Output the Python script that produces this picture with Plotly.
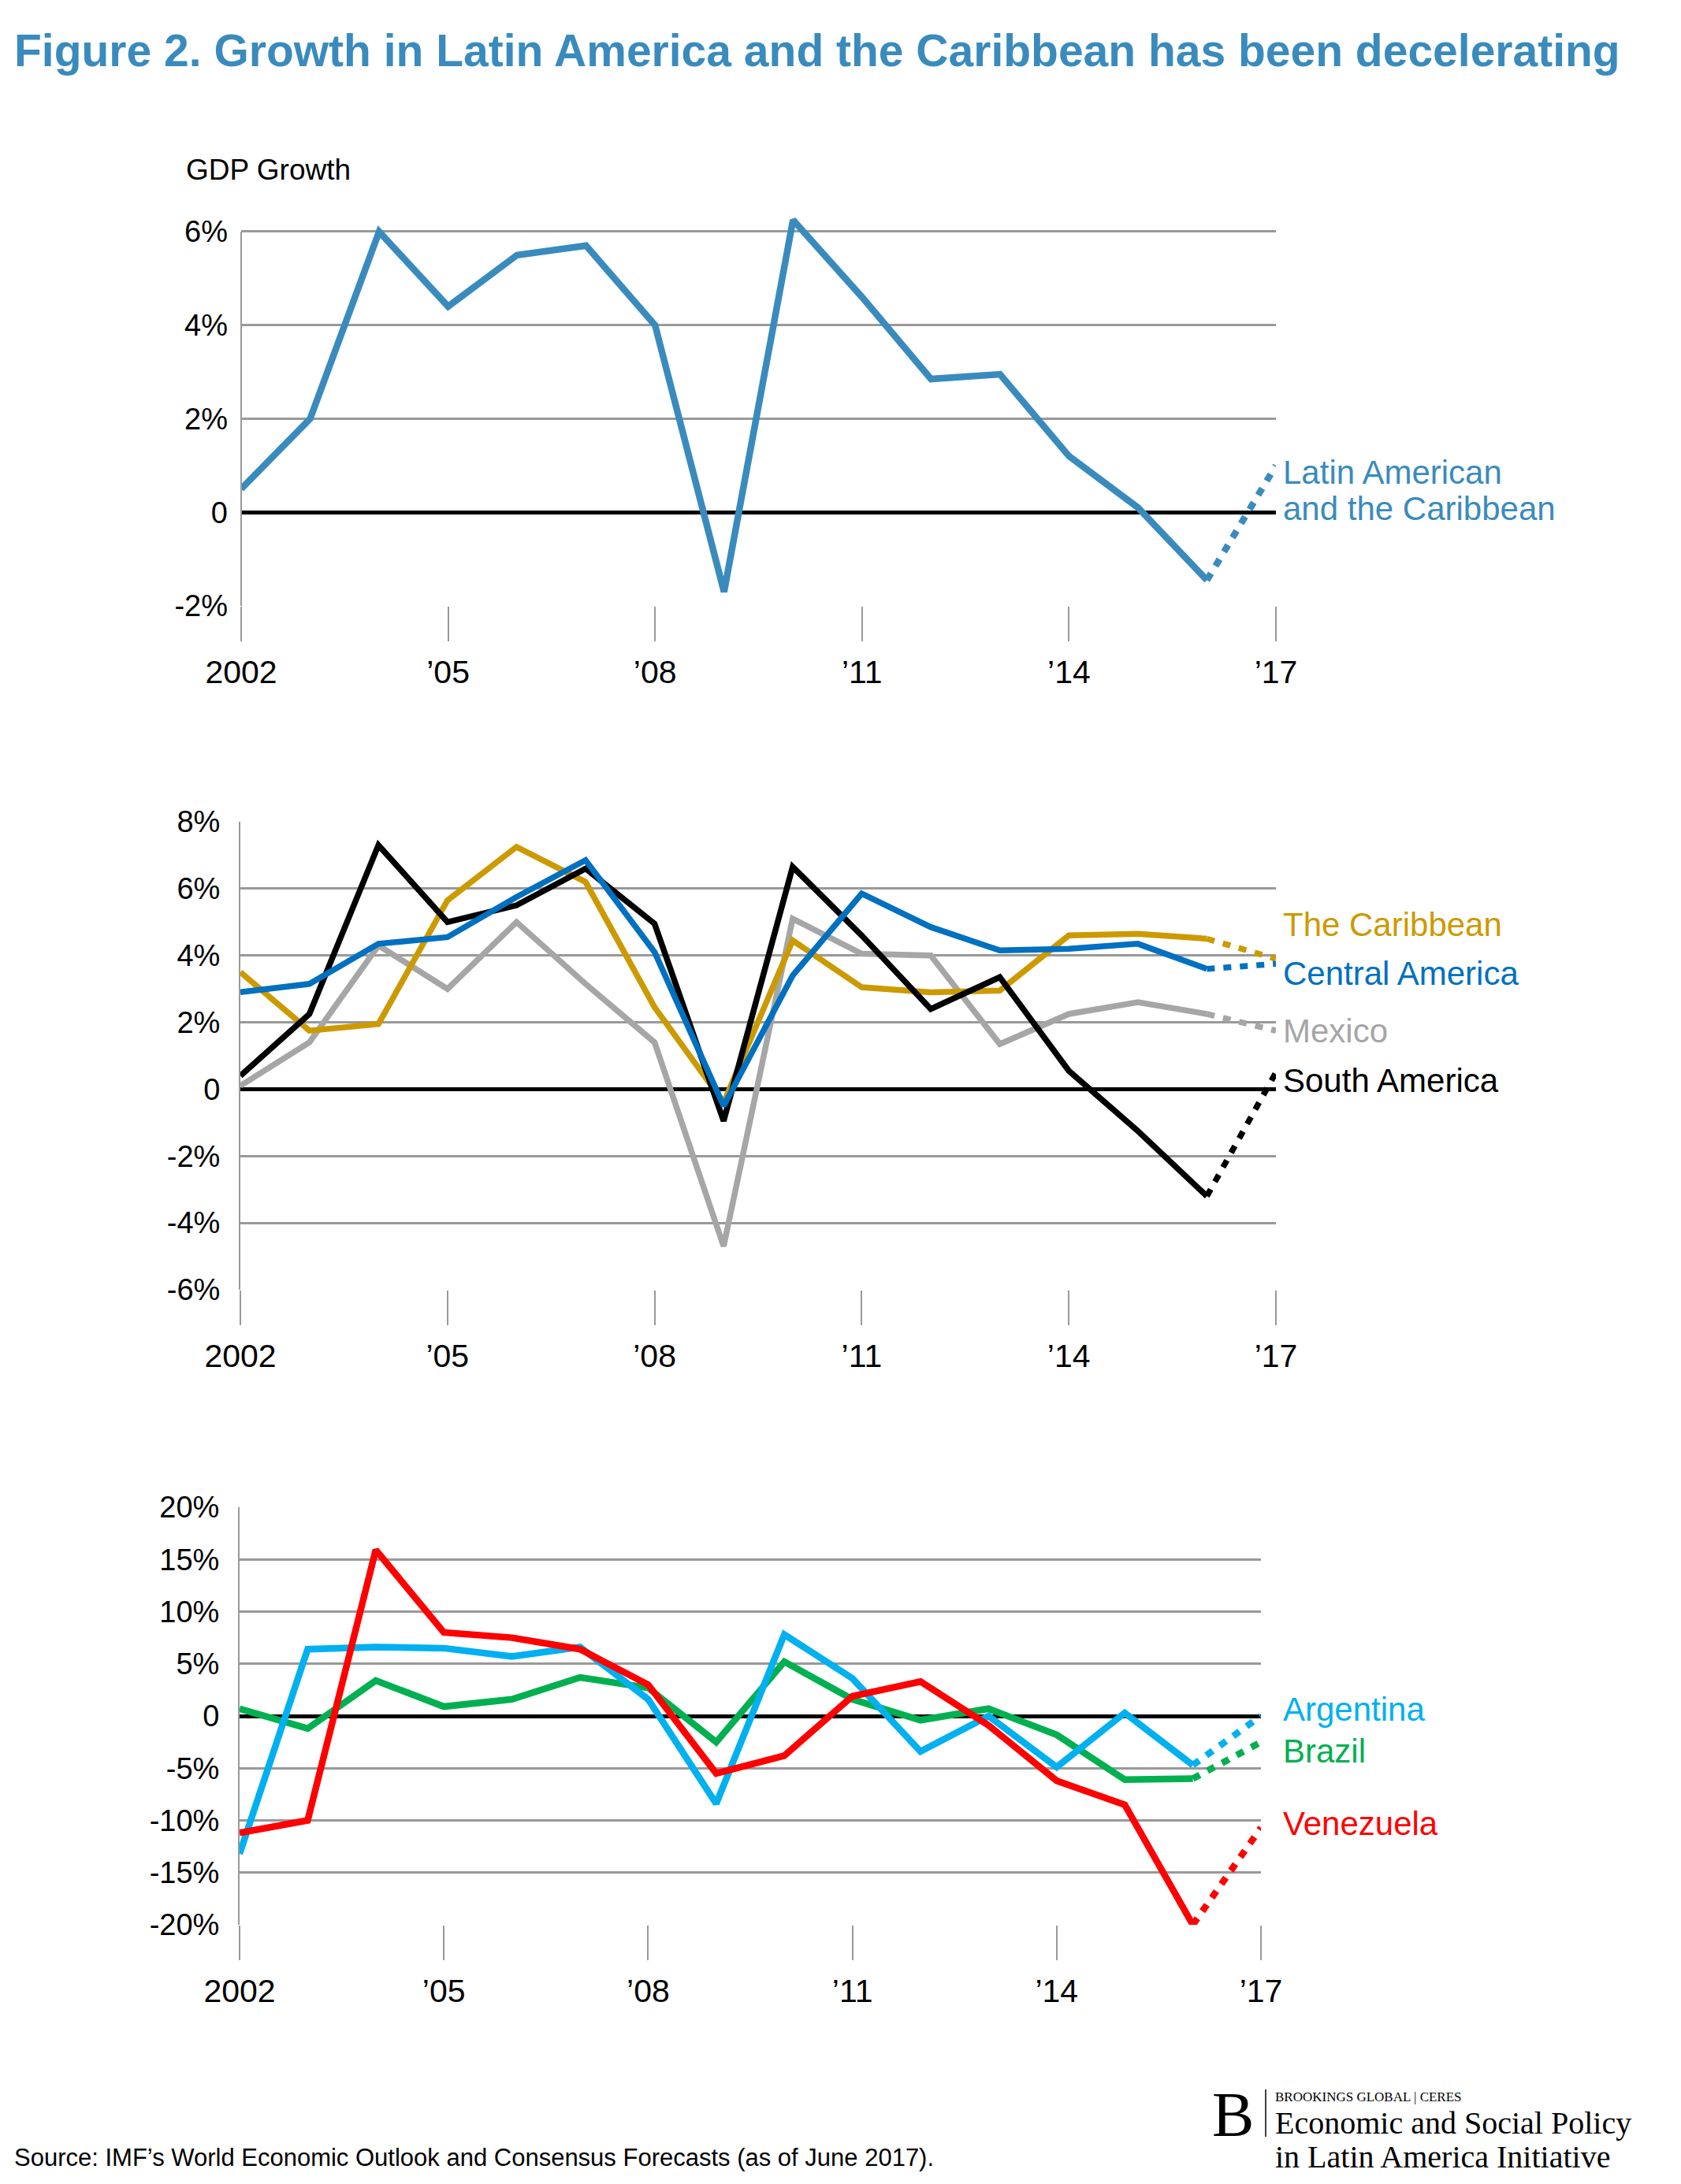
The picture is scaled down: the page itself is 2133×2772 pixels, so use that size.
import plotly.graph_objects as go

W, H = 2133, 2772
OFF = 8  # default page margin of the html body

years = list(range(2002, 2018))

# Panel 1
lac = [0.5, 2.0, 6.0, 4.4, 5.5, 5.7, 4.0, -1.7, 6.25, 4.6, 2.85, 2.95, 1.2, 0.1, -1.45, 1.0]

# Panel 2
caribbean = [3.5, 1.75, 1.95, 5.65, 7.25, 6.2, 2.45, -0.4, 4.45, 3.05, 2.9, 2.95, 4.6, 4.65, 4.5, 3.9]
central_am = [2.9, 3.15, 4.35, 4.55, 5.75, 6.85, 4.1, -0.5, 3.4, 5.85, 4.85, 4.15, 4.2, 4.35, 3.6, 3.75]
mexico = [0.1, 1.4, 4.3, 3.0, 5.0, 3.15, 1.4, -4.7, 5.1, 4.05, 4.0, 1.35, 2.25, 2.6, 2.25, 1.75]
south_am = [0.4, 2.25, 7.3, 5.0, 5.5, 6.6, 4.95, -0.95, 6.65, 4.6, 2.4, 3.35, 0.55, -1.25, -3.2, 0.5]

# Panel 3
argentina = [-13.2, 6.4, 6.6, 6.5, 5.7, 6.6, 1.6, -8.4, 7.8, 3.6, -3.4, 0.0, -4.9, 0.3, -4.7, 0.0]
brazil = [0.7, -1.2, 3.4, 0.9, 1.6, 3.7, 2.7, -2.5, 5.2, 1.6, -0.4, 0.7, -1.8, -6.1, -6.0, -2.5]
venezuela = [-11.2, -10.0, 15.9, 8.0, 7.5, 6.4, 3.0, -5.5, -3.8, 1.9, 3.3, -0.9, -6.2, -8.5, -20.0, -10.7]

x_tickvals = [2002, 2005, 2008, 2011, 2014, 2017]
x_ticktext = ["2002", "\u201905", "\u201908", "\u201911", "\u201914", "\u201917"]

y1_vals = [-2, 0, 2, 4, 6]
y1_text = ["-2%", "0", "2%", "4%", "6%"]
y2_vals = [-6, -4, -2, 0, 2, 4, 6, 8]
y2_text = ["-6%", "-4%", "-2%", "0", "2%", "4%", "6%", "8%"]
y3_vals = [-20, -15, -10, -5, 0, 5, 10, 15, 20]
y3_text = ["-20%", "-15%", "-10%", "-5%", "0", "5%", "10%", "15%", "20%"]

C_LAC = "#3a8bbd"
C_CAR = "#cc9a00"
C_CEN = "#0070c0"
C_MEX = "#a6a6a6"
C_SOU = "#000000"
C_ARG = "#00b0f0"
C_BRA = "#00b050"
C_VEN = "#ff0000"
TITLE_C = "#3a8bbd"
GRID_C = "#999999"

FONT = "Liberation Sans, Arial, sans-serif"
SERIF = "Liberation Serif, Times New Roman, serif"

fig = go.Figure()


def add_series(vals, color, xa, ya, width=6):
    fig.add_trace(go.Scatter(x=years[:-1], y=vals[:-1], mode="lines",
                             line=dict(color=color, width=width),
                             xaxis=xa, yaxis=ya, cliponaxis=False,
                             showlegend=False, hoverinfo="skip"))
    fig.add_trace(go.Scatter(x=years[-2:], y=vals[-2:], mode="lines",
                             line=dict(color=color, width=width, dash="10px,11px"),
                             xaxis=xa, yaxis=ya, cliponaxis=False,
                             showlegend=False, hoverinfo="skip"))


add_series(lac, C_LAC, "x", "y", 8.5)
add_series(mexico, C_MEX, "x2", "y2", 7.5)
add_series(caribbean, C_CAR, "x2", "y2", 7.5)
add_series(south_am, C_SOU, "x2", "y2", 7.5)
add_series(central_am, C_CEN, "x2", "y2", 7.5)
add_series(brazil, C_BRA, "x3", "y3", 8.5)
add_series(argentina, C_ARG, "x3", "y3", 8.5)
add_series(venezuela, C_VEN, "x3", "y3", 8.5)


def py(p):
    return 1 - (p - OFF) / H


def px_(p):
    return (p - OFF) / W


xcommon = dict(range=[2002, 2017], tickvals=x_tickvals, ticktext=x_ticktext,
               showgrid=False, zeroline=False, showline=False, automargin=False,
               ticks="outside", ticklen=44, tickwidth=2, tickcolor=GRID_C,
               tickfont=dict(family=FONT, size=41, color="#000"),
               ticklabelstandoff=4)
ycommon = dict(showgrid=True, gridcolor=GRID_C, gridwidth=2.5,
               zeroline=True, zerolinecolor="#000", zerolinewidth=5,
               linecolor=GRID_C, linewidth=2, automargin=False,
               ticks="", tickfont=dict(family=FONT, size=38, color="#000"),
               ticklabelstandoff=16)

# top panel: 6% gridline at px 294, -2% at 769 -> extend range slightly above 6
top_px, bot_px = 294, 769
ext = 0.35
top_dom = top_px - ext * (bot_px - top_px) / 8.0

fig.update_layout(
    width=W, height=H, margin=dict(l=0, r=0, t=0, b=0, autoexpand=False),
    paper_bgcolor="white", plot_bgcolor="white",
    xaxis=dict(domain=[px_(306), px_(1619)], anchor="y", **xcommon),
    yaxis=dict(domain=[py(bot_px), py(top_dom)], anchor="x", range=[-2, 6 + ext],
               tickvals=y1_vals, ticktext=y1_text, showline=False, **ycommon),
    xaxis2=dict(domain=[px_(305), px_(1619)], anchor="y2", **xcommon),
    yaxis2=dict(domain=[py(1637), py(1043)], anchor="x2", range=[-6, 8],
                tickvals=y2_vals, ticktext=y2_text, showline=True, **ycommon),
    xaxis3=dict(domain=[px_(304), px_(1600)], anchor="y3", **xcommon),
    yaxis3=dict(domain=[py(2443), py(1913)], anchor="x3", range=[-20, 20],
                tickvals=y3_vals, ticktext=y3_text, showline=True, **ycommon),
)

ann = []


def text(x, y, s, size, color="#000", family=FONT, xanchor="left", yanchor="middle"):
    ann.append(dict(xref="paper", yref="paper", x=px_(x), y=py(y), text=s,
                    showarrow=False, xanchor=xanchor, yanchor=yanchor,
                    font=dict(family=family, size=size, color=color)))


text(16, 64, "<b>Figure 2. Growth in Latin America and the Caribbean has been decelerating</b>", 57, TITLE_C)
text(234, 216, "GDP Growth", 37)

text(1626, 600, "Latin American", 42, C_LAC)
text(1626, 645, "and the Caribbean", 42, C_LAC)

text(1626, 1173, "The Caribbean", 42, C_CAR)
text(1626, 1235, "Central America", 42, C_CEN)
text(1626, 1308, "Mexico", 42, C_MEX)
text(1626, 1371, "South America", 42, C_SOU)

text(1626, 2169, "Argentina", 42, C_ARG)
text(1626, 2222, "Brazil", 42, C_BRA)
text(1626, 2314, "Venezuela", 42, C_VEN)

text(16, 2738, "Source: IMF\u2019s World Economic Outlook and Consensus Forecasts (as of June 2017).", 31)

# logo
text(1536, 2684, "B", 80, family=SERIF)
text(1616, 2661, "BROOKINGS GLOBAL | CERES", 17, family=SERIF)
text(1616, 2694, "Economic and Social Policy", 40, family=SERIF)
text(1616, 2737, "in Latin America Initiative", 40, family=SERIF)

fig.update_layout(annotations=ann)
# left axis line of the top panel (from the 6% gridline down to the -2% line)
fig.add_shape(type="line", xref="paper", yref="paper",
              x0=px_(306), x1=px_(306), y0=py(bot_px), y1=py(top_px),
              line=dict(color=GRID_C, width=2))
fig.add_shape(type="line", xref="paper", yref="paper",
              x0=px_(1606), x1=px_(1606), y0=py(2652), y1=py(2712),
              line=dict(color="#000", width=1.5))

fig.write_html("out.html")
